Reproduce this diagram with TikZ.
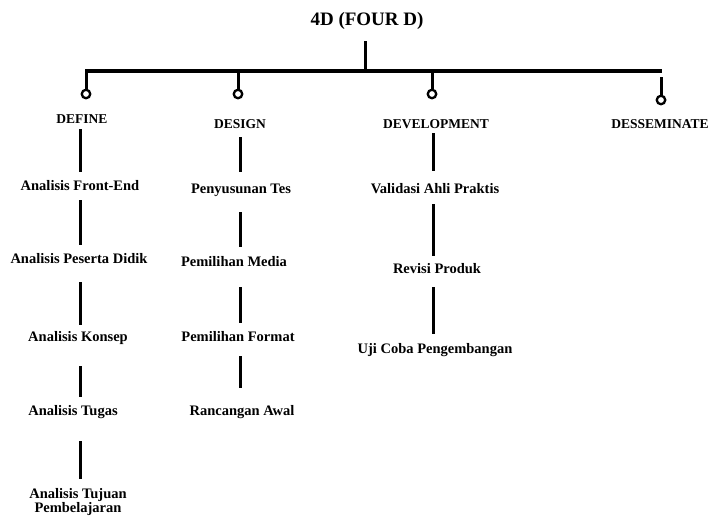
\documentclass[tikz,border=0pt]{standalone}
\usepackage{fontspec}
\setmainfont{Liberation Serif}
\begin{document}
\begin{tikzpicture}[x=1pt,y=-1pt,
  ttl/.style={font=\fontsize{19}{21}\selectfont\bfseries, inner sep=0, outer sep=0, text height=14, text depth=0},
  phase/.style={font=\fontsize{13.5}{15}\selectfont\bfseries, inner sep=0, outer sep=0, text height=9, text depth=0},
  item/.style={font=\fontsize{14.5}{16}\selectfont\bfseries, inner sep=0, outer sep=0, text height=10, text depth=0, align=center},
  conn/.style={line width=3pt},
  knob/.style={circle, draw, line width=2.3pt, minimum size=8.5pt, inner sep=0, fill=white}]
\useasboundingbox (0,0) rectangle (712,517);
% title and bar
\node[ttl] (title) at (367,18) {4D (FOUR D)};
\coordinate (root) at (365,71);
\coordinate (b1) at (86,71);
\coordinate (b2) at (238,71);
\coordinate (b3) at (432,71);
\coordinate (b4) at (661,71);
\coordinate (bl) at (85,71);
\coordinate (br) at (662,71);
\draw[conn, shorten <=16] (title.south -| root) -- (root);
\draw[line width=3.2pt] (bl) -- (br);
% knobs
\node[knob] (k1) at (86,94) {};
\node[knob] (k2) at (238,94) {};
\node[knob] (k3) at (432,94) {};
\node[knob] (k4) at (661,100) {};
\draw[conn] (b1) -- (k1);
\draw[conn] (b2) -- (k2);
\draw[conn] (b3) -- (k3);
\draw[conn, shorten <=6] (b4) -- (k4);
% phase labels
\node[phase] (define) at (82,119) {DEFINE};
\node[phase] (design) at (240,124) {DESIGN};
\node[phase] (devel) at (436,124) {DEVELOPMENT};
\node[phase] (dissem) at (660,124) {DESSEMINATE};
% column coordinates
\coordinate (c1) at (80,0);
\coordinate (c2) at (240,0);
\coordinate (c3) at (433,0);
% DEFINE column
\node[item] (a1) at (80,185) {Analisis Front-End};
\node[item] (a2) at (79,258) {Analisis Peserta Didik};
\node[item] (a3) at (78,336) {Analisis Konsep};
\node[item] (a4) at (73,410) {Analisis Tugas};
\node[item] (a5) at (78,493) {Analisis Tujuan};
\node[item] (a5b) at (78,507) {Pembelajaran};
\draw[conn, shorten <=5.5, shorten >=8] (define.south -| c1) -- (a1.north -| c1);
\draw[conn, shorten <=10, shorten >=8] (a1.south -| c1) -- (a2.north -| c1);
\draw[conn, shorten <=19, shorten >=6] (a2.south -| c1) -- (a3.north -| c1);
\draw[conn, shorten <=25, shorten >=8] (a3.south -| c1) -- (a4.north -| c1);
\draw[conn, shorten <=26, shorten >=9] (a4.south -| c1) -- (a5.north -| c1);
% DESIGN column
\node[item] (d1) at (241,188) {Penyusunan Tes};
\node[item] (d2) at (234,261) {Pemilihan Media};
\node[item] (d3) at (238,336) {Pemilihan Format};
\node[item] (d4) at (242,410) {Rancangan Awal};
\draw[conn, shorten <=8.5, shorten >=11] (design.south -| c2) -- (d1.north -| c2);
\draw[conn, shorten <=19, shorten >=9] (d1.south -| c2) -- (d2.north -| c2);
\draw[conn, shorten <=21, shorten >=8] (d2.south -| c2) -- (d3.north -| c2);
\draw[conn, shorten <=15, shorten >=17] (d3.south -| c2) -- (d4.north -| c2);
% DEVELOPMENT column
\node[item] (v1) at (435,188) {Validasi Ahli Praktis};
\node[item] (v2) at (437,268) {Revisi Produk};
\node[item] (v3) at (435,348) {Uji Coba Pengembangan};
\draw[conn, shorten <=4.5, shorten >=12] (devel.south -| c3) -- (v1.north -| c3);
\draw[conn, shorten <=11, shorten >=7] (v1.south -| c3) -- (v2.north -| c3);
\draw[conn, shorten <=14, shorten >=9] (v2.south -| c3) -- (v3.north -| c3);
\end{tikzpicture}
\end{document}
